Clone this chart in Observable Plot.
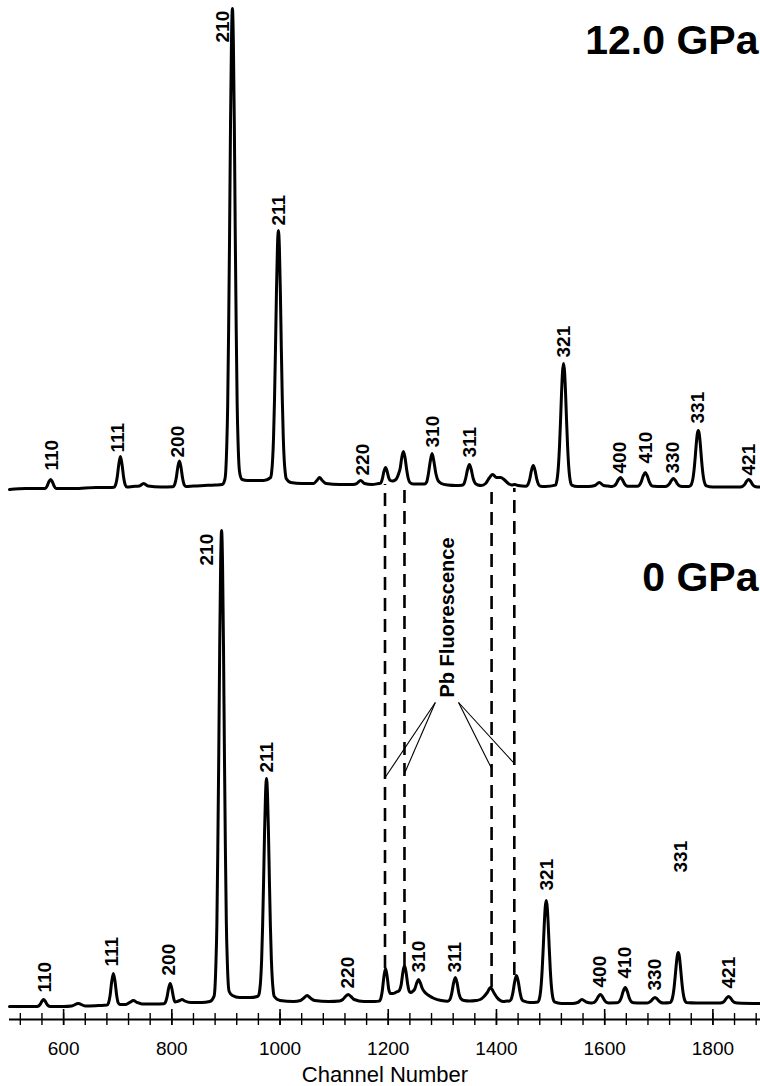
<!DOCTYPE html>
<html>
<head>
<meta charset="utf-8">
<script src="https://cdn.jsdelivr.net/npm/d3@7"></script>
<script src="https://cdn.jsdelivr.net/npm/@observablehq/plot@0.6"></script>
<style>
  html, body { margin: 0; padding: 0; background: #fff; }
</style>
</head>
<body>
<div id="chart"></div>
<script>
// ---------- DATA (channel, intensity in arbitrary counts) ----------
// 12.0 GPa spectrum
const spectrum12 = [
  [500,-1],[530,0],
  [566,0],[570,3],[573,7],[576,9],[579,7],[582,3],[586,0],
  [620,0],[660,1],[685,1],
  [693,1.3],[696,3.5],[699,11],[702,24],[705,32],[708,24],[711,11],[714,3.5],[717,1.5],
  [728,2],[740,2.5],[748,5],[756,2.5],[780,1.5],
  [802,1.8],[805,3.6],[808,10],[811,21],[814,27.5],[817,21],[820,10],[823,3.6],[826,2],
  [840,2.5],[860,3],[880,3.5],[893,4],
  [898,9],[899.75,18],[901.5,42],[903.25,83],[905,160],[906.75,254],[908.5,366],[910.25,447],[912,480],
  [913.75,447],[915.5,366],[917.25,254],[919,160],[920.75,85],[922.5,45],[924.25,22],[926,14],[930,9],
  [940,8],[955,8],[970,8],
  [982.6,11],[984.4,16],[986.2,28],[988,51],[989.8,89],[991.6,140],[993.4,197],[995.2,241],[997,258],
  [998.8,241],[1000.6,197],[1002.4,140],[1004.2,89],[1006,51],[1007.8,28],[1009.6,16],[1011.4,10],
  [1020,6],[1040,5],
  [1062,5],[1068,8],[1073,11],[1078,8],[1085,5],[1110,4],[1135,4],
  [1142,5],[1149,8],[1156,5],[1170,4],[1182,5],
  [1186,5.4],[1189,9.5],[1192,17],[1195,21],[1198,17],[1201,10.5],[1204,8],[1208,7.5],
  [1213,8.5],[1216,10.5],[1219,14.5],[1222,20],[1225,31],[1228,37],[1231,31],[1234,19],[1237,10],[1240,6],[1246,4.5],[1255,4.5],
  [1267,4.5],[1271,6.5],[1274,14],[1277.6,27],[1281,35],[1284.4,27],[1288,15],[1292,8],[1298,5],[1310,3.5],[1325,3],
  [1336,3.3],[1340,4.7],[1343,10],[1346.6,19],[1350,24],[1353.4,19],[1357,10],[1361,5],[1366,3.5],[1372,3],
  [1380,5],[1386,10],[1393,14],[1400,11],[1408,11],[1414,9],[1422,5],[1428,3.5],[1434,4],[1440,3],
  [1454.5,2.2],[1458,3.7],[1461.25,8.8],[1464.6,17.9],[1468,23],[1471.4,17.9],[1474.75,8.8],[1478,3.7],[1481.5,2.2],[1490,2],
  [1509,3.4],[1510.9,5.9],[1512.75,11.8],[1514.6,23.2],[1516.5,42],[1518.4,67.3],[1520.25,94.9],[1522.1,116.6],[1524,125],
  [1525.9,116.6],[1527.75,94.9],[1529.6,67.3],[1531.5,42],[1533.4,23.2],[1535.25,11.8],[1537.1,5.9],[1539,3.4],
  [1550,2],[1570,2],
  [1582,3],[1590,6],[1598,3],[1606,2.5],
  [1614,2.1],[1617.75,2.7],[1621.5,4.9],[1625.25,8.8],[1629,11],[1632.75,8.8],[1636.5,4.9],[1640.25,2.7],[1645,2.2],
  [1660,2.2],[1663.75,3.1],[1667.5,6.6],[1671.25,12.6],[1675,16],[1678.75,12.6],[1682.5,6.6],[1686.25,3.1],[1691,2.2],[1705,2],
  [1712,2.1],[1715.75,2.6],[1719.5,4.6],[1723.25,8],[1727,10],[1730.75,8],[1734.5,4.6],[1738.25,2.6],[1743,2.1],[1755,2],
  [1758,2.6],[1759.9,3.8],[1761.75,6.5],[1763.6,11.6],[1765.5,20.2],[1767.4,31.7],[1769.25,44.3],[1771.1,54.2],[1773,58],
  [1774.9,54.2],[1776.75,44.3],[1778.6,31.7],[1780.5,20.2],[1782.4,11.6],[1784.25,6.5],[1786.1,3.8],[1788,2.6],
  [1800,1.5],[1825,1.5],[1845,1.5],
  [1851,1.6],[1854.75,2.1],[1858.5,3.9],[1862.25,7.2],[1866,9],[1869.75,7.2],[1873.5,3.9],[1877.25,2.1],[1882,1.6],[1888,1.5]
];

// 0 GPa spectrum
const spectrum0 = [
  [500,-2],[530,-2],
  [551,-1.9],[554,-1.4],[557,0.3],[560,3.3],[563,5],[566,3.3],[569,0.3],[572,-1.4],[575,-1.9],[600,-2],
  [615,-1.5],[627,1],[640,-1.5],[665,-1],
  [680,-0.6],[683,1.6],[686,9.4],[689,23.2],[692,31],[695,23.2],[698,9.4],[701,1.6],[704,0],
  [715,0],[722,2],[729,4],[736,2],[745,0.5],[770,0.5],
  [785,0.7],[788,2.1],[791,7.2],[794,16],[797,21],[800,16],[803,7.2],[806,2.5],[810,3],
  [815,4],[819,5],[824,3.5],[835,2],[855,2],[870,3],
  [878,8.2],[879.75,16.7],[881.5,40.7],[883.25,80],[885,156],[886.75,249],[888.5,359],[890.25,441],[892,474],
  [893.75,441],[895.5,359],[897.25,249],[899,156],[900.75,82],[902.5,44],[904.25,21],[906,13],[912,9],
  [925,7],[945,7],[958,8],
  [960.6,9.4],[962.4,14],[964.2,24.5],[966,44.7],[967.8,78.2],[969.6,123],[971.4,172.3],[973.2,210.7],[975,226],
  [976.8,210.7],[978.6,172.3],[980.4,123],[982.2,78.2],[984,44.7],[985.8,24.5],[987.6,13],[989.4,8],
  [1000,4],[1025,3],
  [1038,4],[1044,6.5],[1050,9],[1056,6.5],[1064,4],[1090,3],[1110,3.5],
  [1116,5],[1121,8],[1126,10],[1131,8],[1137,5],[1155,3],[1175,3],
  [1183,3.4],[1186,5.6],[1189,13.7],[1192,27.9],[1195,36],[1198,28],[1201,15],[1204,11],[1208,11],
  [1212,11.5],[1215,12.5],[1218,13],[1221,14.5],[1224,20],[1227,32],[1230,39],[1233,32],[1236,20],[1239,13],[1242,12],
  [1245,13],[1249,15.5],[1252.6,21.5],[1256,25],[1259.4,21.5],[1263,16],[1268,12],[1275,9],[1285,6],[1298,4],
  [1310,3.3],[1314,5],[1317.25,10.8],[1320.6,21.1],[1324,27],[1327.4,21.1],[1330.75,10.8],[1334,6],[1340,4],[1350,3.5],[1362,4],
  [1370,5],[1377,8],[1383,12],[1389,17],[1395,12],[1401,7],[1407,4],[1413,3],[1420,3.5],
  [1423,3.3],[1427,5],[1430.25,11.5],[1433.6,22.6],[1437,29],[1440.4,22.6],[1443.75,11.5],[1447,5.1],[1451,3.3],[1462,2],
  [1477,2.6],[1478.9,4.8],[1480.75,9.7],[1482.6,19.1],[1484.5,34.8],[1486.4,55.9],[1488.25,78.9],[1490.1,97],[1492,104],
  [1493.9,97],[1495.75,78.9],[1497.6,55.9],[1499.5,34.8],[1501.4,19.1],[1503.25,9.7],[1505.1,4.8],[1507,2.6],
  [1520,1],[1540,1],
  [1550,2],[1558,5],[1566,2.5],[1575,1.5],
  [1577,1.6],[1580.75,2.1],[1584.5,4.3],[1588.25,7.9],[1592,10],[1595.75,7.9],[1599.5,4.3],[1603.25,2.1],[1608,1.6],
  [1623,1.7],[1626.75,2.7],[1630.5,6.5],[1634.25,13.2],[1638,17],[1641.75,13.2],[1645.5,6.5],[1649.25,2.7],[1654,1.7],[1668,1.5],
  [1678,1.5],[1681.75,2],[1685.5,3.3],[1689.25,5.7],[1693,7],[1696.75,5.7],[1700.5,3.3],[1704.25,2],[1709,1.5],
  [1721,2],[1722.9,3.1],[1724.75,5.5],[1726.6,10.2],[1728.5,17.9],[1730.4,28.3],[1732.25,39.6],[1734.1,48.6],[1736,52],
  [1737.9,48.6],[1739.75,39.6],[1741.6,28.3],[1743.5,17.9],[1745.4,10.2],[1747.25,5.5],[1749.1,3.1],[1751,2],
  [1770,1.5],[1790,1.5],[1810,1.5],
  [1814,1.6],[1817.75,2],[1821.5,3.6],[1825.25,6.4],[1829,8],[1832.75,6.4],[1836.5,3.6],[1840.25,2],[1845,1.6],[1888,1]
];

// Reflection labels: hkl, channel, intensity level where the label starts
const hkl12 = ["110","111","200","210","211","220","310","311","321","400","410","330","331","421"];
const hkl12Channel = [579, 701, 812, 894, 997, 1154, 1282, 1350, 1524, 1629, 1677, 1727, 1773, 1866];
const hkl12Level = [18, 36, 31, 446, 263, 13, 41, 31, 131, 15, 25, 15, 65, 13];

const hkl0 = ["110","111","200","210","211","220","310","311","321","400","410","330","331","421"];
const hkl0Channel = [565, 690, 795, 864, 975, 1126, 1256, 1323, 1493, 1592, 1638, 1693, 1740, 1829];
const hkl0Level = [12, 38, 29, 439, 232, 16, 32, 32, 114, 17, 26, 14, 132, 16];

// Pb fluorescence lines (channels), their lower end on the 0 GPa trace and upper end on the 12 GPa trace
const pbChannel = [1194, 1230, 1391, 1433];
const pbLow = [36, 39, 17, 29];
const pbHigh = [4, 6, -4, 0];

// leader lines from the "Pb Fluorescence" label (channel / intensity on the 0 GPa scale)
const leaderFromCh = [1287, 1287, 1330, 1330];
const leaderFromI = [302, 302, 302, 302];
const leaderToCh = [1193, 1230, 1391, 1433];
const leaderToI = [226, 231, 236, 241];

const pressures = ["12.0 GPa", "0 GPa"];
const pressureLevel = [435, 414];   // label baseline, intensity on each trace's own scale

const majorTicks = [600, 800, 1000, 1200, 1400, 1600, 1800];
const minorTicks = d3.range(520, 1888, 40);

// ---------- LAYOUT CONSTANTS ----------
const OFFSET12 = 516;     // vertical stacking offset of the 12.0 GPa trace
const AXIS_Y = -15;

const labels12 = hkl12.map((t, i) => ({t, x: hkl12Channel[i], y: hkl12Level[i] + OFFSET12}));
const labels0 = hkl0.map((t, i) => ({t, x: hkl0Channel[i], y: hkl0Level[i]}));
const pb = pbChannel.map((c, i) => ({x: c, y1: pbLow[i], y2: pbHigh[i] + OFFSET12}));
const leaders = leaderFromCh.map((c, i) => ({x1: c, y1: leaderFromI[i], x2: leaderToCh[i], y2: leaderToI[i]}));
const pLabels = pressures.map((t, i) => ({t, y: pressureLevel[i] + (i === 0 ? OFFSET12 : 0)}));

const font = "'Liberation Sans', Arial, Helvetica, sans-serif";

const chart = Plot.plot({
  width: 760,
  height: 1086,
  marginLeft: 9,
  marginRight: 0,
  marginTop: 4,
  marginBottom: 62,
  x: {domain: [500, 1888], axis: null},
  y: {domain: [-20, 1000], axis: null},
  style: {fontFamily: font, background: "#fff", color: "#000", overflow: "visible"},
  marks: [
    // axis line and crossing ticks
    Plot.ruleY([AXIS_Y], {x1: 500, x2: 1888, strokeWidth: 2.2, stroke: "#000"}),
    Plot.ruleX(minorTicks, {y1: AXIS_Y - 6, y2: AXIS_Y + 6, strokeWidth: 1.4, stroke: "#000"}),
    Plot.ruleX(majorTicks, {y1: AXIS_Y - 6, y2: AXIS_Y + 10, strokeWidth: 1.6, stroke: "#000"}),
    Plot.axisX(majorTicks, {anchor: "bottom", tickSize: 0, tickPadding: 17, fontSize: 19, tickFormat: "d", label: null}),
    Plot.text(["Channel Number"], {frameAnchor: "bottom", text: d => d, dy: 57, lineAnchor: "bottom", fontSize: 22}),

    // Pb fluorescence dashed lines and leaders
    Plot.ruleX(pb, {x: "x", y1: "y1", y2: "y2", stroke: "#000", strokeWidth: 2.6, strokeDasharray: "13,8"}),
    Plot.link(leaders, {x1: "x1", y1: "y1", x2: "x2", y2: "y2", stroke: "#000", strokeWidth: 1.1}),
    Plot.text(["Pb Fluorescence"], {x: 1309, y: 307, text: d => d, rotate: -90, textAnchor: "start",
      fontSize: 20, fontWeight: "bold"}),

    // spectra
    Plot.line(spectrum12, {x: d => d[0], y: d => d[1] + OFFSET12, curve: "monotone-x",
      stroke: "#000", strokeWidth: 3, strokeLinejoin: "round"}),
    Plot.line(spectrum0, {x: d => d[0], y: d => d[1], curve: "monotone-x",
      stroke: "#000", strokeWidth: 3, strokeLinejoin: "round"}),

    // hkl labels
    Plot.text(labels12, {x: "x", y: "y", text: "t", rotate: -90, textAnchor: "start", fontSize: 19, fontWeight: "bold"}),
    Plot.text(labels0, {x: "x", y: "y", text: "t", rotate: -90, textAnchor: "start", fontSize: 19, fontWeight: "bold"}),

    // pressure labels
    Plot.text(pLabels, {x: 1888, y: "y", text: "t", textAnchor: "end", lineAnchor: "bottom", dx: -2,
      fontSize: 41, fontWeight: "bold"})
  ]
});

document.getElementById("chart").appendChild(chart);
</script>
</body>
</html>
